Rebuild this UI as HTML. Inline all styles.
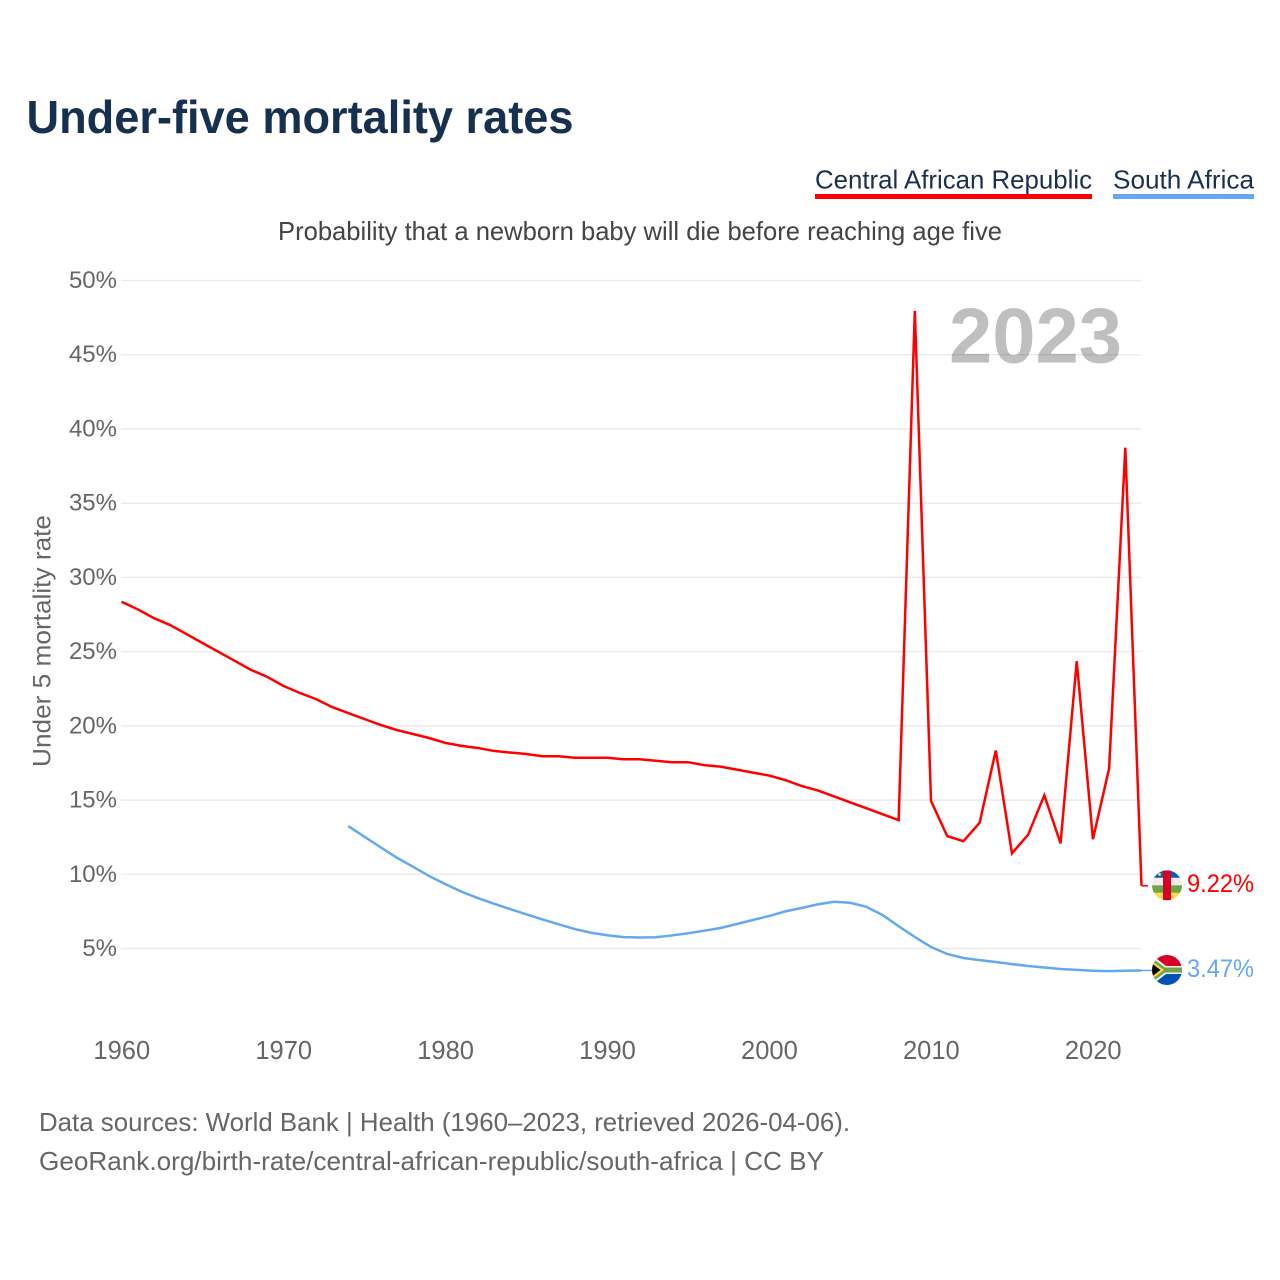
<!DOCTYPE html>
<html lang="en">
<head>
<meta charset="utf-8">
<title>Under-five mortality rates</title>
<style>
html,body{margin:0;padding:0;background:#fff;}
svg{display:block;font-family:"Liberation Sans",sans-serif;}
</style>
</head>
<body>
<svg id="chart" xmlns="http://www.w3.org/2000/svg" width="1280" height="1280" viewBox="0 0 1280 1280">
  <defs>
    <clipPath id="flag-clip"><circle cx="0" cy="0" r="15"></circle></clipPath>
  </defs>
  <rect width="1280" height="1280" fill="#fff"></rect>
  <text x="26.5" y="133" font-size="46" font-weight="700" fill="#17304f" textLength="547" lengthAdjust="spacingAndGlyphs">Under-five mortality rates</text>

  <text x="815" y="188.5" font-size="26" fill="#1a3050" textLength="277" lengthAdjust="spacingAndGlyphs">Central African Republic</text>
  <rect x="815" y="194" width="277" height="5" fill="#ff0000"></rect>
  <text x="1113" y="188.5" font-size="26" fill="#1a3050" textLength="141" lengthAdjust="spacingAndGlyphs">South Africa</text>
  <rect x="1113" y="194" width="141" height="5" fill="#64a9ee"></rect>

  <text x="278" y="240" font-size="26" fill="#444444" textLength="724" lengthAdjust="spacingAndGlyphs">Probability that a newborn baby will die before reaching age five</text>

  <g id="grid"></g>
  <g id="y-ticks"></g>
  <g id="x-ticks"></g>

  <text transform="translate(50.5,641) rotate(-90)" text-anchor="middle" font-size="25" fill="#666666" textLength="252" lengthAdjust="spacingAndGlyphs">Under 5 mortality rate</text>

  <text x="949" y="362.5" font-size="78" font-weight="700" fill="#000000" fill-opacity="0.25" textLength="173" lengthAdjust="spacingAndGlyphs">2023</text>

  <g id="series"></g>

  <g id="flag-caf">
    <g clip-path="url(#flag-clip)">
      <rect x="-15" y="-15" width="30" height="7.5" fill="#0f5bb5"></rect>
      <rect x="-15" y="-7.5" width="30" height="7.5" fill="#eeeeee"></rect>
      <rect x="-15" y="0" width="30" height="7.5" fill="#6da544"></rect>
      <rect x="-15" y="7.5" width="30" height="7.5" fill="#ffda44"></rect>
      <rect x="-4" y="-15" width="8" height="30" fill="#d80027"></rect>
      <circle cx="-7.5" cy="-11" r="1.5" fill="#ffda44"></circle>
    </g>
  </g>
  <g id="flag-zaf">
    <g clip-path="url(#flag-clip)">
      <rect x="-15" y="-15" width="30" height="15" fill="#d80027"></rect>
      <rect x="-15" y="0" width="30" height="15" fill="#0052b4"></rect>
      <path d="M-15,-15 L-1,-4 H15 V4 H-1 L-15,15 Z" fill="#f0f0f0"></path>
      <path d="M-15,-12 L-2,-2.5 H15 V2.5 H-2 L-15,12 Z" fill="#6da544"></path>
      <path d="M-15,-9 L-3,0 L-15,9 Z" fill="#ffda44"></path>
      <path d="M-15,-6.5 L-6.5,0 L-15,6.5 Z" fill="#000000"></path>
    </g>
  </g>

  <text x="39" y="1131" font-size="26" fill="#666666" textLength="811" lengthAdjust="spacingAndGlyphs">Data sources: World Bank | Health (1960–2023, retrieved 2026-04-06).</text>
  <text x="39" y="1170" font-size="26" fill="#666666" textLength="785" lengthAdjust="spacingAndGlyphs">GeoRank.org/birth-rate/central-african-republic/south-africa | CC BY</text>
</svg>
<script>
const NS = 'http://www.w3.org/2000/svg';

const yTickValues = [5, 10, 15, 20, 25, 30, 35, 40, 45, 50];
const xTickYears = [1960, 1970, 1980, 1990, 2000, 2010, 2020];
const carStartYear = 1960;
const carValues = [
  28.36, 27.85, 27.26, 26.79, 26.19, 25.58, 24.98, 24.37, 23.77, 23.30,
  22.69, 22.22, 21.81, 21.27, 20.86, 20.46, 20.06, 19.72, 19.45, 19.18,
  18.85, 18.65, 18.51, 18.31, 18.20, 18.10, 17.95, 17.95, 17.85, 17.85,
  17.85, 17.75, 17.75, 17.65, 17.55, 17.55, 17.35, 17.25, 17.05, 16.85,
  16.65, 16.35, 15.95, 15.65, 15.25, 14.85, 14.45, 14.05, 13.65, 47.95,
  14.94, 12.57, 12.23, 13.47, 18.34, 11.41, 12.67, 15.32, 12.08, 24.35,
  12.36, 17.13, 38.74, 9.22
];
const zafStartYear = 1974;
const zafValues = [
  13.25, 12.53, 11.82, 11.12, 10.51, 9.88, 9.34, 8.83, 8.40, 8.02,
  7.66, 7.30, 6.96, 6.63, 6.31, 6.06, 5.89, 5.77, 5.74, 5.76,
  5.88, 6.03, 6.20, 6.38, 6.65, 6.92, 7.19, 7.50, 7.73, 7.97,
  8.15, 8.08, 7.81, 7.26, 6.50, 5.78, 5.10, 4.63, 4.36, 4.22,
  4.09, 3.95, 3.82, 3.72, 3.62, 3.56, 3.50, 3.48, 3.50, 3.52
];

function xScale(year) { return 121.5 + (year - 1960) * (1020 / 63); }
function yScale(value) { return 948.5 - (value - 5) * (668 / 45); }

function make(tag, attrs, parent, text) {
  const el = document.createElementNS(NS, tag);
  for (const k in attrs) el.setAttribute(k, attrs[k]);
  if (text !== undefined) el.textContent = text;
  parent.appendChild(el);
  return el;
}

const gridG = document.getElementById('grid');
const yTicksG = document.getElementById('y-ticks');
const xTicksG = document.getElementById('x-ticks');
const seriesG = document.getElementById('series');

yTickValues.forEach(function (v) {
  const line = make('line', { x1: 121, x2: 1141, y1: yScale(v), y2: yScale(v), stroke: '#e9e9e9', 'stroke-width': 1.3 }, gridG);
  
  
  const label = make('text', { x: 117, y: yScale(v) + 7.5, 'text-anchor': 'end', 'font-size': 24, fill: '#666666' }, yTicksG, v + '%');
  
  
});

xTickYears.forEach(function (yr) {
  const label = make('text', { x: xScale(yr) + 0.3, y: 1059, 'text-anchor': 'middle', 'font-size': 25.5, fill: '#666666' }, xTicksG, String(yr));
  
  
});

function drawSeries(values, startYear, color, leaderEnd, flagId, nameBase, printedValue) {
  const pts = values.map(function (v, i) { return xScale(startYear + i) + ',' + yScale(v); });
  const path = make('polyline', { points: pts.join(' '), fill: 'none', stroke: color, 'stroke-width': 2.5 }, seriesG);
  
  

  const last = values[values.length - 1];
  const endY = yScale(last);
  const endX = xScale(startYear + values.length - 1);
  const leader = make('line', { x1: endX, x2: leaderEnd, y1: endY, y2: endY, stroke: color, 'stroke-width': 1.5 }, seriesG);
  
  

  document.getElementById(flagId).setAttribute('transform', 'translate(1167,' + (endY - 0.5) + ')');

  const valueLabel = make('text', { x: 1187, y: endY + 6.3, 'font-size': 25, fill: color, textLength: 67, lengthAdjust: 'spacingAndGlyphs' }, seriesG, printedValue.toFixed(2) + '%');
  
  
}

const printedLatest = [9.22, 3.47];
drawSeries(carValues, carStartYear, '#ff0000', 1148, 'flag-caf', 'central-african-republic', printedLatest[0]);
drawSeries(zafValues, zafStartYear, '#64a9ee', 1152, 'flag-zaf', 'south-africa', printedLatest[1]);
</script>
</body>
</html>
